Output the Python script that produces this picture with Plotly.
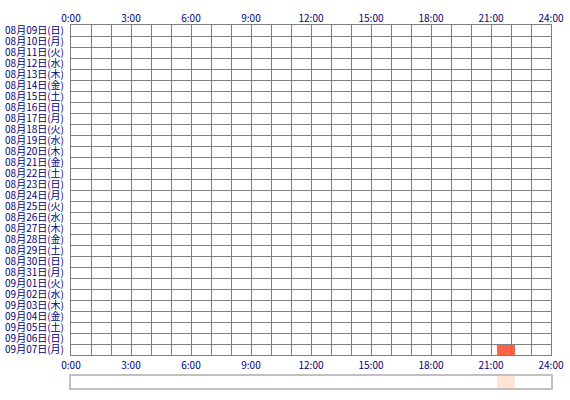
import plotly.graph_objects as go

# ---- data ----
dates = [
    "08月09日(日)", "08月10日(月)", "08月11日(火)", "08月12日(水)", "08月13日(木)",
    "08月14日(金)", "08月15日(土)", "08月16日(日)", "08月17日(月)", "08月18日(火)",
    "08月19日(水)", "08月20日(木)", "08月21日(金)", "08月22日(土)", "08月23日(日)",
    "08月24日(月)", "08月25日(火)", "08月26日(水)", "08月27日(木)", "08月28日(金)",
    "08月29日(土)", "08月30日(日)", "08月31日(月)", "09月01日(火)", "09月02日(水)",
    "09月03日(木)", "09月04日(金)", "09月05日(土)", "09月06日(日)", "09月07日(月)",
]
event_day = ["09月07日(月)"]
event_start = [21.3]   # hours
event_end = [22.2]     # hours
hour_ticks = [0, 3, 6, 9, 12, 15, 18, 21, 24]
hour_labels = ["0:00", "3:00", "6:00", "9:00", "12:00", "15:00", "18:00", "21:00", "24:00"]

FONT = "Noto Sans CJK JP"
NAVY = "#000080"
GRID = "#808080"
n = len(dates)
durations = [e - s for s, e in zip(event_start, event_end)]

fig = go.Figure()

# activity bars (subplot A, drawn below the grid subplot)
fig.add_trace(go.Bar(
    y=event_day, x=durations, base=event_start, orientation="h",
    width=1, marker=dict(color="#FF6347", line=dict(width=0)),
    xaxis="x", yaxis="y", showlegend=False, hoverinfo="skip"))

# invisible trace to carry the grid subplot categories (subplot B)
fig.add_trace(go.Scatter(
    y=dates, x=[0] * n, mode="markers", marker=dict(opacity=0),
    xaxis="x2", yaxis="y2", showlegend=False, hoverinfo="skip"))

# overview strip (subplot C)
fig.add_trace(go.Bar(
    y=["all"] * len(durations), x=durations, base=event_start, orientation="h",
    width=1, marker=dict(color="#FFE4D4", line=dict(width=0)),
    xaxis="x3", yaxis="y3", showlegend=False, hoverinfo="skip"))

main_dom = [33 / 363, 1]
cat_range = [n - 0.5, -0.5]

fig.update_layout(
    width=570, height=400,
    margin=dict(l=71, r=19, t=25, b=12, autoexpand=False),
    paper_bgcolor="white", plot_bgcolor="rgba(0,0,0,0)",
    font=dict(family=FONT, size=10, color=NAVY),
    bargap=0,
    xaxis=dict(domain=[0, 1], range=[0, 24], side="top", showgrid=False,
               zeroline=False, tickvals=hour_ticks, ticktext=hour_labels,
               ticks="", ticklabelstandoff=0, fixedrange=True, anchor="y",
               automargin=False),
    yaxis=dict(domain=main_dom, type="category", categoryarray=dates,
               categoryorder="array", range=cat_range, showticklabels=False,
               showgrid=False, zeroline=False, anchor="x", fixedrange=True,
               automargin=False),
    xaxis2=dict(domain=[0, 1], range=[0, 24], side="bottom", anchor="y2",
                tickvals=hour_ticks, ticktext=hour_labels, ticks="",
                ticklabelstandoff=1,
                showgrid=True, gridcolor=GRID, gridwidth=1,
                minor=dict(dtick=1, tick0=0, showgrid=True, gridcolor=GRID, gridwidth=1),
                zeroline=False, showline=True, mirror=True, linecolor=GRID, linewidth=1,
                fixedrange=True, automargin=False, layer="above traces"),
    yaxis2=dict(domain=main_dom, type="category", categoryarray=dates,
                categoryorder="array", range=cat_range, anchor="x2",
                tickmode="array", tickvals=dates, ticktext=dates,
                tickson="boundaries", ticks="", showgrid=True, gridcolor=GRID,
                gridwidth=1, zeroline=False, showline=True, mirror=True,
                linecolor=GRID, linewidth=1, ticklabelstandoff=4, fixedrange=True,
                automargin=False, tickfont=dict(size=10), layer="above traces"),
    xaxis3=dict(domain=[0, 1], range=[0, 24], anchor="y3", showticklabels=False,
                showgrid=False, zeroline=False, showline=True, mirror=True,
                linecolor="#C0C0C0", linewidth=1.5, ticks="", fixedrange=True,
                automargin=False),
    yaxis3=dict(domain=[0, 12 / 363], anchor="x3", type="category",
                range=[-0.5, 0.5], showticklabels=False, showgrid=False,
                zeroline=False, showline=True, mirror=True, linecolor="#C0C0C0",
                linewidth=1.5, ticks="", fixedrange=True, automargin=False),
)

fig.write_html("out.html", config={"displayModeBar": False},
               post_script="document.body.style.margin='0';document.body.style.overflow='hidden';")
